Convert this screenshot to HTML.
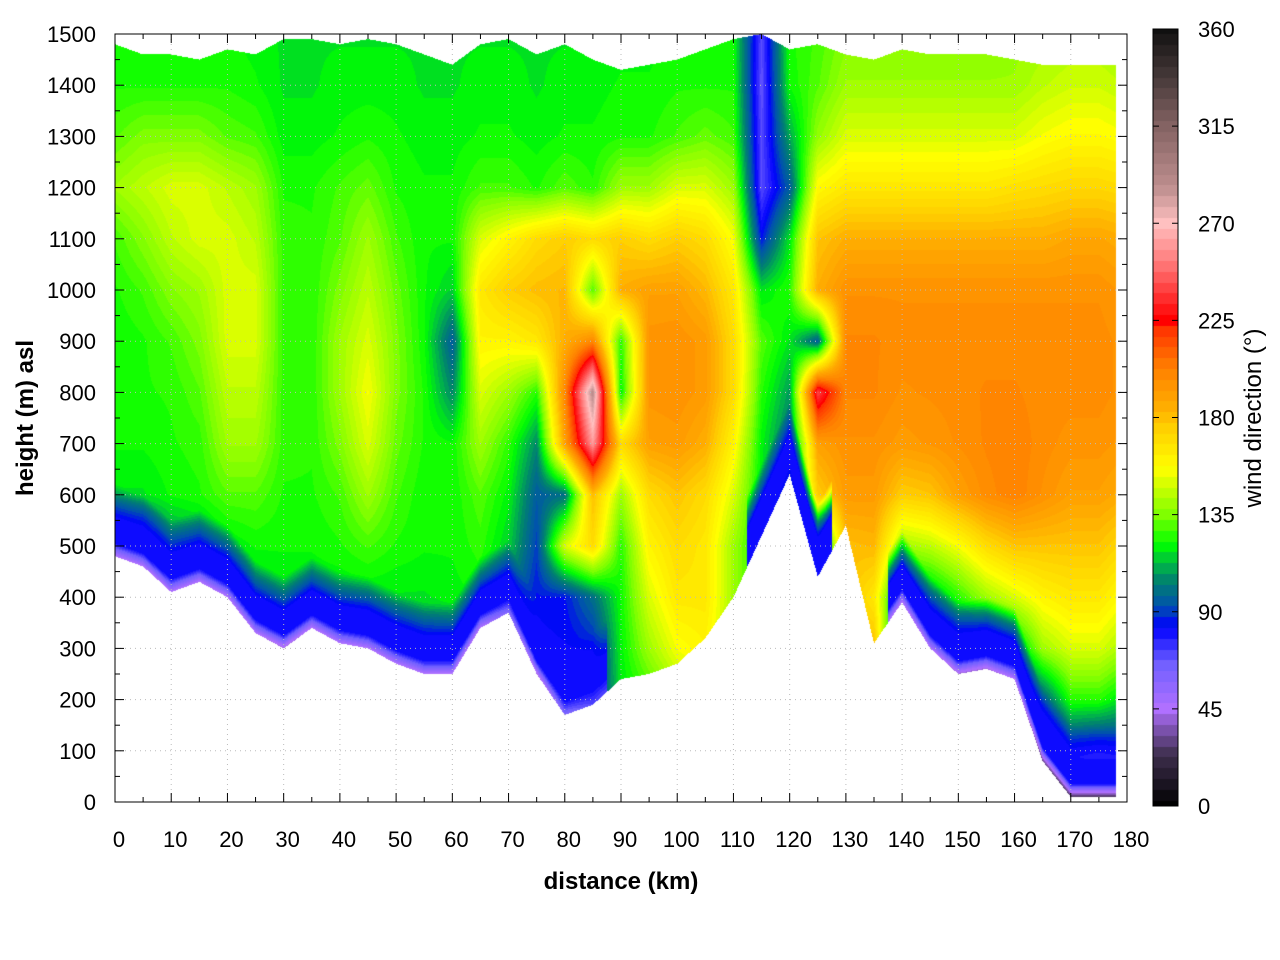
<!DOCTYPE html>
<html><head><meta charset="utf-8">
<style>
html,body{margin:0;padding:0;background:#fff;}
#wrap{position:relative;width:1280px;height:960px;overflow:hidden;font-family:"Liberation Sans",sans-serif;}
canvas{position:absolute;}
svg{position:absolute;left:0;top:0;}
</style></head>
<body>
<div id="wrap">
<canvas id="plot" width="1012" height="768" style="left:115px;top:34px"></canvas>
<canvas id="cbar" width="25" height="777" style="left:1153px;top:29px"></canvas>
<svg id="ax" width="1280" height="960"></svg>
</div>
<script>
// ---- data ----
const distancesKm = [0,5,10,15,20,25,30,35,40,45,50,55,60,65,70,75,80,85,90,95,100,105,110,115,120,125,130,135,140,145,150,155,160,165,170,175,180];
const heightsM = [0,100,200,300,400,500,600,700,800,900,1000,1100,1200,1300,1400,1500];
const terrainM = [480,460,410,430,400,330,300,340,310,300,270,250,250,340,370,250,170,190,240,250,270,320,400,520,640,440,540,310,390,300,250,260,240,80,10,10,10];
const topM = [1480,1460,1460,1450,1470,1460,1490,1490,1480,1490,1480,1460,1440,1480,1490,1460,1480,1450,1430,1440,1450,1470,1490,1500,1470,1480,1460,1450,1470,1460,1460,1460,1450,1440,1440,1440,1440];
const groundDir = [45,45,45,45,45,45,40,45,45,45,45,45,45,45,60,40,60,70,-1,-1,-1,-1,-1,80,85,80,-1,-1,45,45,40,40,45,30,25,25,25];
const dirC0=[60,60,60,60,60,85,118,122,122,122,124,128,140,130,124,122];
const dirC5=[40,40,40,40,50,85,118,122,124,124,128,136,145,135,124,122];
const dirC10=[40,40,40,40,80,105,122,124,125,128,136,145,150,135,124,122];
const dirC15=[40,40,40,40,85,110,124,126,130,135,140,150,150,135,124,122];
const dirC20=[40,40,40,60,90,118,130,140,145,150,150,150,145,130,124,122];
const dirC25=[40,40,40,80,115,122,130,140,145,150,150,145,140,128,122,120];
const dirC30=[30,30,30,100,118,122,124,126,126,126,126,126,124,120,118,118];
const dirC35=[40,40,40,105,118,122,124,125,125,125,125,125,124,120,118,118];
const dirC40=[40,40,40,100,118,124,128,135,140,140,135,130,128,122,120,118];
const dirC45=[40,40,40,90,118,128,140,150,155,150,145,140,132,124,120,118];
const dirC50=[40,40,80,100,118,124,128,132,135,135,132,128,124,122,120,118];
const dirC55=[40,40,80,105,118,122,122,124,124,122,122,122,122,120,118,118];
const dirC60=[40,40,80,112,120,122,122,122,105,95,115,122,122,120,118,118];
const dirC65=[40,40,80,118,122,126,130,140,150,160,165,150,128,122,120,118];
const dirC70=[40,40,70,90,100,115,120,126,140,160,175,160,128,122,120,118];
const dirC75=[30,30,75,82,85,90,95,105,125,165,180,170,124,120,118,118];
const dirC80=[20,20,80,82,85,150,100,190,200,185,182,175,130,122,120,118];
const dirC85=[20,20,82,85,100,170,180,260,290,200,130,170,125,122,120,118];
const dirC90=[50,50,118,120,122,125,140,170,120,125,185,175,140,124,122,120];
const dirC95=[120,120,125,140,150,160,170,190,195,195,190,170,140,124,122,120];
const dirC100=[130,130,140,155,165,170,178,192,196,196,190,175,150,128,124,122];
const dirC105=[140,140,150,160,165,165,170,185,192,192,182,170,150,132,124,122];
const dirC110=[124,124,130,140,140,140,150,160,170,170,165,155,140,128,124,122];
const dirC115=[118,118,118,118,118,118,118,120,125,130,118,85,70,70,68,70];
const dirC120=[100,100,100,100,100,100,100,100,108,118,125,118,95,110,122,124];
const dirC125=[80,80,80,80,80,90,175,190,240,95,185,178,158,138,130,128];
const dirC130=[180,180,180,180,180,180,192,196,200,200,196,185,165,150,140,135];
const dirC135=[180,180,180,180,165,182,192,196,200,200,196,185,165,150,140,135];
const dirC140=[60,60,60,75,100,140,175,192,196,198,196,185,165,150,140,135];
const dirC145=[50,50,60,80,110,145,178,194,197,198,196,185,165,150,140,135];
const dirC150=[40,40,60,85,125,155,190,197,198,198,196,185,165,150,140,135];
const dirC155=[40,40,60,90,140,170,198,200,200,198,196,185,165,150,140,135];
const dirC160=[40,40,70,110,150,178,202,202,200,198,196,185,168,150,140,138];
const dirC165=[30,55,95,140,160,178,196,198,198,198,196,185,170,155,145,140];
const dirC170=[20,85,125,150,165,178,190,195,198,198,196,188,172,158,148,142];
const dirC175=[15,80,125,150,165,178,190,195,198,198,196,188,172,158,148,142];
const dirC180=[15,85,115,140,155,170,185,192,195,195,192,185,170,155,145,140];
const directionGrid=[dirC0,dirC5,dirC10,dirC15,dirC20,dirC25,dirC30,dirC35,dirC40,dirC45,dirC50,dirC55,dirC60,dirC65,dirC70,dirC75,dirC80,dirC85,dirC90,dirC95,dirC100,dirC105,dirC110,dirC115,dirC120,dirC125,dirC130,dirC135,dirC140,dirC145,dirC150,dirC155,dirC160,dirC165,dirC170,dirC175,dirC180];
const xTicks=[0,10,20,30,40,50,60,70,80,90,100,110,120,130,140,150,160,170,180];
const yTicks=[0,100,200,300,400,500,600,700,800,900,1000,1100,1200,1300,1400,1500];
const cbTicks=[0,45,90,135,180,225,270,315,360];

const cmap=[[0,0,0,0],[24,64,48,80],[45,176,112,255],[66,112,96,255],[83,0,0,255],[92,0,80,176],[104,0,128,112],[113,0,192,64],[121,0,255,0],[135,128,255,0],[151,224,255,0],[156,255,255,0],[175,255,208,0],[184,255,176,0],[203,255,128,0],[222,255,48,0],[225,255,0,0],[253,255,128,128],[270,255,192,192],[286,192,144,144],[317,128,96,96],[340,64,53,53],[360,16,16,16]];
function color(v){
  v=Math.max(0,Math.min(360,v));
  for(let i=1;i<cmap.length;i++){
    if(v<=cmap[i][0]){const a=cmap[i-1],b=cmap[i];const t=(v-a[0])/(b[0]-a[0]);
      return [a[1]+(b[1]-a[1])*t,a[2]+(b[2]-a[2])*t,a[3]+(b[3]-a[3])*t];}
  }
  return [16,16,16];
}
const X0=115,X1=1127,Y0=802,Y1=34;
const xs=km=>X0+(km/180)*(X1-X0);
const ys=m=>Y0-(m/1500)*(Y0-Y1);
function interpCol(arr,km){
  const f=km/5;let i=Math.floor(f);if(i>=arr.length-1)i=arr.length-2;const t=f-i;
  return arr[i]*(1-t)+arr[i+1]*t;
}
(function(){
  const c=document.getElementById('plot'),ctx=c.getContext('2d');
  const W=c.width,H=c.height,img=ctx.createImageData(W,H),d=img.data;
  for(let px=0;px<W;px++){
    const km=(px+0.5)/W*180;
    if(km>178)continue;
    const f=km/5;let i=Math.min(Math.floor(f),distancesKm.length-2);const tx=f-i;
    const ter=interpCol(terrainM,km),top=interpCol(topM,km);
    const g0=groundDir[i],g1=groundDir[i+1];
    for(let py=0;py<H;py++){
      const m=(H-py-0.5)/H*1500;
      if(m<ter||m>top)continue;
      const fy=m/100;let j=Math.min(Math.floor(fy),heightsM.length-2);const ty=fy-j;
      const A=directionGrid[i],B=directionGrid[i+1];
      let v=(A[j]*(1-ty)+A[j+1]*ty)*(1-tx)+(B[j]*(1-ty)+B[j+1]*ty)*tx;
      let g=-1;
      if(g0>=0&&g1>=0)g=g0*(1-tx)+g1*tx;else if(g0>=0&&tx<0.5)g=g0;else if(g1>=0&&tx>=0.5)g=g1;
      const dz=m-ter;
      if(g>=0&&dz<140){
        if(dz<25){const t=dz/25;v=g*(1-t)+80*t;}
        else if(dz<70){v=80;}
        else {const t=(dz-70)/70;v=80*(1-t)+v*t;}
      }
      v=Math.round(v/3)*3;
      const col=color(v),k=(py*W+px)*4;
      d[k]=col[0];d[k+1]=col[1];d[k+2]=col[2];d[k+3]=255;
    }
  }
  ctx.putImageData(img,0,0);
})();
(function(){
  const c=document.getElementById('cbar'),ctx=c.getContext('2d');
  for(let y=0;y<c.height;y++){const v=360*(1-(y+0.5)/c.height);const col=color(Math.round(v/5)*5);
    ctx.fillStyle=`rgb(${col[0]|0},${col[1]|0},${col[2]|0})`;ctx.fillRect(0,y,c.width,1);}
})();
(function(){
  const svg=document.getElementById('ax'),NS='http://www.w3.org/2000/svg';
  function el(tag,attrs,parent){const e=document.createElementNS(NS,tag);for(const k in attrs)e.setAttribute(k,attrs[k]);(parent||svg).appendChild(e);return e;}
  xTicks.forEach(v=>{
    const x=xs(v);
    const gl=el('line',{x1:x,x2:x,y1:Y1,y2:Y0,stroke:'#bbb','stroke-width':1,'stroke-dasharray':'1,4'});
    
    
    el('line',{x1:x,x2:x,y1:Y0,y2:Y0-9,stroke:'#000'});el('line',{x1:x,x2:x,y1:Y1,y2:Y1+9,stroke:'#000'});
    const t=el('text',{x:x+4,y:847,'font-size':22,'text-anchor':'middle',fill:'#000'});t.textContent=v;
    
    
    if(v<180){const xm=xs(v+5);el('line',{x1:xm,x2:xm,y1:Y0,y2:Y0-5,stroke:'#000'});el('line',{x1:xm,x2:xm,y1:Y1,y2:Y1+5,stroke:'#000'});}
  });
  yTicks.forEach(v=>{
    const y=ys(v);
    const gl=el('line',{x1:X0,x2:X1,y1:y,y2:y,stroke:'#bbb','stroke-width':1,'stroke-dasharray':'1,4'});
    
    
    el('line',{x1:X0,x2:X0+9,y1:y,y2:y,stroke:'#000'});el('line',{x1:X1,x2:X1-9,y1:y,y2:y,stroke:'#000'});
    const t=el('text',{x:96,y:y+8,'font-size':22,'text-anchor':'end',fill:'#000'});t.textContent=v;
    
    
    if(v<1500){const ym=ys(v+50);el('line',{x1:X0,x2:X0+5,y1:ym,y2:ym,stroke:'#000'});el('line',{x1:X1,x2:X1-5,y1:ym,y2:ym,stroke:'#000'});}
  });
  const fr=el('rect',{x:X0,y:Y1,width:X1-X0,height:Y0-Y1,fill:'none',stroke:'#000','stroke-width':1});
  
  
  el('rect',{x:1153,y:29,width:25,height:777,fill:'none',stroke:'#000'});
  cbTicks.forEach(v=>{
    const y=806-v/360*777;
    el('line',{x1:1153,x2:1159,y1:y,y2:y,stroke:'#000'});el('line',{x1:1178,x2:1172,y1:y,y2:y,stroke:'#000'});
    const t=el('text',{x:1198,y:y+8,'font-size':22,fill:'#000'});t.textContent=v;
    
    
  });
  const xt=el('text',{x:621,y:889,'font-size':24,'font-weight':'bold','text-anchor':'middle'});xt.textContent='distance (km)';
  
  
  const yt=el('text',{x:0,y:0,'font-size':24,'font-weight':'bold','text-anchor':'middle',transform:'translate(33,418) rotate(-90)'});yt.textContent='height (m) asl';
  
  
  const ct=el('text',{x:0,y:0,'font-size':24,'text-anchor':'middle',transform:'translate(1261,418) rotate(-90)'});ct.textContent='wind direction (°)';
  
  
})();
</script>
</body></html>
